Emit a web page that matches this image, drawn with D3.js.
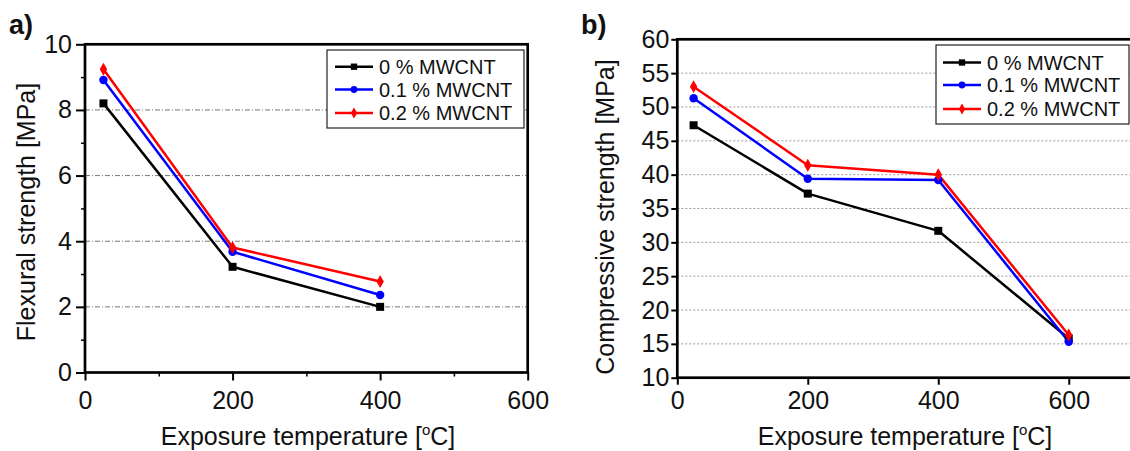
<!DOCTYPE html>
<html>
<head>
<meta charset="utf-8">
<script src="https://cdn.jsdelivr.net/npm/d3@7"></script>
<style>
  html, body { margin: 0; padding: 0; background: #fff; }
  svg { display: block; font-family: "Liberation Sans", Arial, sans-serif; }
</style>
</head>
<body>
<svg id="fig" width="1130" height="451"></svg>
<script>
// Series labels and colours
const seriesNames = ["0 % MWCNT", "0.1 % MWCNT", "0.2 % MWCNT"];

// Panel a: flexural strength [MPa]
const tempsA = [25, 200, 400];
const flex0 = [8.20, 3.22, 2.00];
const flex01 = [8.91, 3.68, 2.36];
const flex02 = [9.24, 3.81, 2.77];
const flexTicks = [0, 2, 4, 6, 8, 10];
const flexMinorTicks = [1, 3, 5, 7, 9];
const flexGrid = [2, 4, 6, 8];
const tempTicksA = [0, 200, 400, 600];
const tempMinorA = [100, 300, 500];

// Panel b: compressive strength [MPa]
const tempsB = [25, 200, 400, 600];
const comp0 = [47.3, 37.2, 31.7, 15.8];
const comp01 = [51.3, 39.4, 39.2, 15.3];
const comp02 = [53.0, 41.4, 40.0, 16.3];
const compTicks = [10, 15, 20, 25, 30, 35, 40, 45, 50, 55, 60];
const compGrid = [15, 20, 25, 30, 35, 40, 45, 50, 55];
const tempTicksB = [0, 200, 400, 600];

const colors = ["#000000", "#0000ff", "#ff0000"];
const shapes = [d3.symbolSquare, d3.symbolCircle, d3.symbolDiamond];
const symSizes = [64, 56, 48];
const legSizes = [40, 36, 34];

const svg = d3.select("#fig");
const TXT = "#111";

function panel(cfg) {
  const g = svg.append("g");
  const x = d3.scaleLinear().domain(cfg.xDomain).range(cfg.xRange);
  const y = d3.scaleLinear().domain(cfg.yDomain).range(cfg.yRange);

  // grid
  g.append("g").selectAll("line").data(cfg.grid).join("line")
    .attr("x1", cfg.xRange[0]).attr("x2", cfg.xRange[1])
    .attr("y1", d => y(d)).attr("y2", d => y(d))
    .attr("stroke", cfg.gridColor).attr("stroke-width", 1)
    .attr("stroke-dasharray", cfg.gridDash);

  // series
  const line = d3.line().x(d => x(d[0])).y(d => y(d[1]));
  cfg.series.forEach((vals, i) => {
    const pts = cfg.temps.map((t, j) => [t, vals[j]]);
    g.append("path").datum(pts).attr("d", line)
      .attr("fill", "none").attr("stroke", colors[i]).attr("stroke-width", 2.5)
      .attr("stroke-linejoin", "round");
  });
  cfg.series.forEach((vals, i) => {
    const pts = cfg.temps.map((t, j) => [t, vals[j]]);
    g.append("g").selectAll("path").data(pts).join("path")
      .attr("transform", d => `translate(${x(d[0])},${y(d[1])})`)
      .attr("d", d3.symbol().type(shapes[i]).size(symSizes[i]))
      .attr("fill", colors[i]);
  });

  // legend
  const L = cfg.legend;
  g.append("rect").attr("x", L.x).attr("y", L.y).attr("width", L.w).attr("height", L.h)
    .attr("fill", "#fff").attr("stroke", "#222").attr("stroke-width", 1.2);
  seriesNames.forEach((name, i) => {
    const ry = L.rows[i];
    g.append("line").attr("x1", L.lx0).attr("x2", L.lx1).attr("y1", ry).attr("y2", ry)
      .attr("stroke", colors[i]).attr("stroke-width", 2.5);
    g.append("path").attr("transform", `translate(${(L.lx0 + L.lx1) / 2},${ry})`)
      .attr("d", d3.symbol().type(shapes[i]).size(legSizes[i])).attr("fill", colors[i]);
    g.append("text").attr("x", L.tx).attr("y", ry).attr("dy", "0.36em")
      .attr("font-size", 20).attr("fill", TXT).text(name);
  });

  // axes
  const yAxis = d3.axisLeft(y).tickValues(cfg.yTicks).tickSize(cfg.yTickLen)
    .tickPadding(cfg.yPad).tickSizeOuter(0);
  const yg = g.append("g").attr("transform", `translate(${cfg.xRange[0]},0)`).call(yAxis);
  const xAxis = d3.axisBottom(x).tickValues(cfg.xTicks).tickSize(cfg.xTickLen)
    .tickPadding(cfg.xPad).tickSizeOuter(0);
  const xg = g.append("g").attr("transform", `translate(0,${cfg.yRange[0]})`).call(xAxis);
  [yg, xg].forEach(a => {
    a.select(".domain").remove();
    a.selectAll("line").attr("stroke", "#000").attr("stroke-width", 2);
    a.selectAll("text").attr("font-size", 25).attr("fill", TXT)
      .attr("font-family", '"Liberation Sans", Arial, sans-serif');
  });
  if (cfg.yMinor) {
    const ym = g.append("g").attr("transform", `translate(${cfg.xRange[0]},0)`)
      .call(d3.axisLeft(y).tickValues(cfg.yMinor).tickSize(4).tickFormat("").tickSizeOuter(0));
    ym.select(".domain").remove();
    ym.selectAll("line").attr("stroke", "#000").attr("stroke-width", 1.5);
  }
  if (cfg.xMinor) {
    const xm = g.append("g").attr("transform", `translate(0,${cfg.yRange[0]})`)
      .call(d3.axisBottom(x).tickValues(cfg.xMinor).tickSize(4).tickFormat("").tickSizeOuter(0));
    xm.select(".domain").remove();
    xm.selectAll("line").attr("stroke", "#000").attr("stroke-width", 1.5);
  }

  // frame
  g.append("rect")
    .attr("x", cfg.xRange[0]).attr("y", cfg.yRange[1])
    .attr("width", cfg.xRange[1] - cfg.xRange[0]).attr("height", cfg.yRange[0] - cfg.yRange[1])
    .attr("fill", "none").attr("stroke", "#000").attr("stroke-width", 2.7);

  // axis titles
  const xt = g.append("text").attr("x", cfg.xTitleX).attr("y", 445)
    .attr("text-anchor", "middle").attr("font-size", 25).attr("fill", TXT);
  xt.append("tspan").text("Exposure temperature [");
  xt.append("tspan").attr("font-size", 15).attr("dy", -10).text("o");
  xt.append("tspan").attr("dy", 10).text("C]");

  g.append("text")
    .attr("transform", `translate(${cfg.yTitleX},${cfg.yTitleY}) rotate(-90)`)
    .attr("text-anchor", "middle").attr("font-size", 25).attr("fill", TXT)
    .text(cfg.yTitle);

  // panel letter
  g.append("text").attr("x", cfg.letterX).attr("y", 34)
    .attr("font-size", 27).attr("font-weight", "bold").attr("fill", TXT).text(cfg.letter);
}

panel({
  letter: "a)", letterX: 9,
  xDomain: [0, 600], xRange: [85, 527.7],
  yDomain: [0, 10], yRange: [372.5, 44.3],
  temps: tempsA, series: [flex0, flex01, flex02],
  yTicks: flexTicks, yMinor: flexMinorTicks, xTicks: tempTicksA, xMinor: tempMinorA,
  yTickLen: 9, yPad: 4, xTickLen: 8, xPad: 11,
  grid: flexGrid, gridColor: "#777", gridDash: "5,2,1,2",
  legend: { x: 327, y: 50, w: 197, h: 78, rows: [66.7, 89.5, 113], lx0: 335, lx1: 373, tx: 379 },
  xTitleX: 308, yTitleX: 35, yTitleY: 212, yTitle: "Flexural strength [MPa]"
});

panel({
  letter: "b)", letterX: 581,
  xDomain: [0, 700], xRange: [677.3, 1134],
  yDomain: [10, 60], yRange: [377.7, 39.3],
  temps: tempsB, series: [comp0, comp01, comp02],
  yTicks: compTicks, yMinor: null, xTicks: tempTicksB, xMinor: null,
  yTickLen: 6, yPad: 2, xTickLen: 7, xPad: 7,
  grid: compGrid, gridColor: "#999", gridDash: "2,2",
  legend: { x: 936, y: 45, w: 193, h: 79, rows: [62.5, 85, 109], lx0: 943, lx1: 981, tx: 987 },
  xTitleX: 905, yTitleX: 614, yTitleY: 217, yTitle: "Compressive strength [MPa]"
});
</script>
</body>
</html>
